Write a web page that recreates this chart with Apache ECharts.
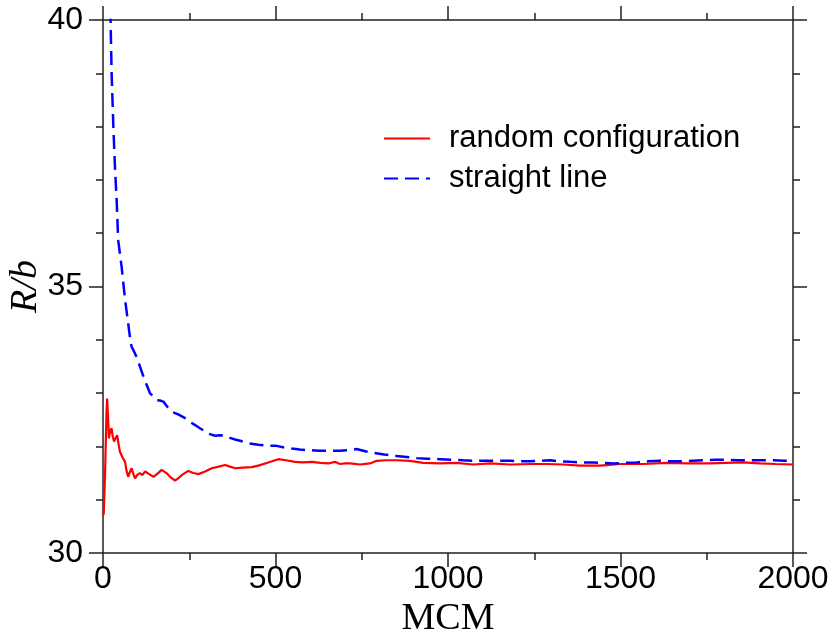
<!DOCTYPE html>
<html><head><meta charset="utf-8">
<script src="https://cdn.jsdelivr.net/npm/echarts@6/dist/echarts.min.js"></script>
<style>html,body{margin:0;padding:0;background:#fff}#c{width:834px;height:634px}</style>
</head><body><div id="c"></div>
<script>
// ---- data ----
const seriesNames = ["random configuration", "straight line"];
const randomMCM = [2,6,10,12,15,17,21,25,28,32,36,41,45,49,56,64,68,73,78,83,88,93,100,107,114,122,134,146,158,170,184,196,209,218,228,247,262,276,296,315,335,354,368,383,405,431,450,470,490,508,530,557,580,605,630,653,672,687,701,716,745,774,793,820,851,890,928,977,1025,1073,1122,1180,1238,1286,1333,1383,1441,1499,1566,1634,1691,1759,1855,1904,1950,2000];
const randomR = [30.72,31.5,32.6,32.9,32.5,32.15,32.3,32.34,32.2,32.09,32.15,32.21,32.05,31.90,31.8,31.71,31.55,31.43,31.52,31.59,31.48,31.40,31.47,31.50,31.46,31.53,31.48,31.43,31.49,31.56,31.50,31.42,31.36,31.40,31.46,31.54,31.50,31.48,31.53,31.59,31.62,31.65,31.62,31.59,31.60,31.61,31.64,31.68,31.72,31.76,31.74,31.71,31.70,31.71,31.69,31.68,31.71,31.67,31.68,31.68,31.66,31.68,31.73,31.74,31.74,31.73,31.69,31.68,31.69,31.66,31.68,31.66,31.67,31.67,31.66,31.64,31.64,31.67,31.67,31.69,31.68,31.68,31.70,31.68,31.67,31.66];
const straightMCM = [18,22,25,30,35,40,44,54,64,73,80,83,90,97,107,115,122,130,136,141,148,155,165,175,187,199,218,238,252,267,281,296,310,325,340,354,368,383,400,421,450,479,503,525,547,570,595,625,653,687,710,735,760,783,815,851,880,909,940,977,1010,1044,1080,1112,1145,1180,1210,1238,1270,1296,1325,1354,1390,1421,1450,1479,1510,1547,1580,1614,1650,1682,1710,1740,1775,1807,1840,1875,1910,1943,1975,2000];
const straightR = [40.6,39.97,39.0,38.0,37.19,36.56,35.87,35.37,34.75,34.31,33.95,33.87,33.78,33.68,33.50,33.35,33.23,33.1,33.0,32.98,32.92,32.87,32.86,32.84,32.74,32.65,32.60,32.53,32.46,32.40,32.34,32.28,32.23,32.20,32.21,32.20,32.16,32.13,32.10,32.06,32.03,32.01,32.01,31.98,31.96,31.94,31.93,31.92,31.92,31.92,31.93,31.95,31.91,31.88,31.85,31.82,31.80,31.78,31.77,31.76,31.75,31.74,31.73,31.73,31.73,31.73,31.72,31.72,31.73,31.74,31.72,31.71,31.70,31.70,31.69,31.68,31.69,31.70,31.72,31.73,31.72,31.72,31.73,31.74,31.75,31.75,31.74,31.74,31.74,31.74,31.73,31.73];
const xMin = 0, xMax = 2000, xStep = 500;
const yMin = 30, yMax = 40, yStep = 5;
const xTitle = "MCM";
const yTitle = "R/b";

// ---- chart ----
const zip = (a, b) => a.map((v, i) => [v, b[i]]);
const axisCol = '#222';
const tickLabel = {fontSize: 32, fontFamily: 'Liberation Sans', color: '#000', formatter: v => String(v)};
function xAx(pos, show) {
  return {
    type: 'value', position: pos, min: xMin, max: xMax, interval: xStep,
    axisLine: {show: true, onZero: false, lineStyle: {color: axisCol, width: 1.5}},
    axisTick: {show: true, inside: false, length: 14, lineStyle: {color: axisCol, width: 1.5}},
    minorTick: {show: true, splitNumber: 2, length: 7, lineStyle: {color: axisCol, width: 1.5}},
    splitLine: {show: false}, minorSplitLine: {show: false},
    axisLabel: Object.assign({show: show, margin: 10}, tickLabel),
    name: show ? xTitle : '', nameLocation: 'middle', nameGap: 39,
    nameTextStyle: {fontFamily: 'Liberation Serif', fontSize: 38, color: '#000'}
  };
}
function yAx(pos, show) {
  return {
    type: 'value', position: pos, min: yMin, max: yMax, interval: yStep,
    axisLine: {show: true, onZero: false, lineStyle: {color: axisCol, width: 1.5}},
    axisTick: {show: true, inside: false, length: 14, lineStyle: {color: axisCol, width: 1.5}},
    minorTick: {show: true, splitNumber: 5, length: 7, lineStyle: {color: axisCol, width: 1.5}},
    splitLine: {show: false}, minorSplitLine: {show: false},
    axisLabel: Object.assign({show: show, margin: 20}, tickLabel),
    name: show ? yTitle : '', nameLocation: 'middle', nameGap: 58, nameRotate: 90, nameMoveOverlap: false,
    nameTextStyle: {fontFamily: 'Liberation Serif', fontStyle: 'italic', fontSize: 38, color: '#000'}
  };
}
const chart = echarts.init(document.getElementById('c'), null, {renderer: 'canvas'});
chart.setOption({
  animation: false,
  backgroundColor: '#fff',
  grid: {left: 103, right: 41, top: 20, bottom: 81, containLabel: false, outerBoundsMode: 'none'},
  xAxis: [xAx('bottom', true), xAx('top', false)],
  yAxis: [yAx('left', true), yAx('right', false)],
  legend: {
    orient: 'vertical', left: 383, top: 123, padding: 0,
    itemWidth: 46, itemHeight: 12, itemGap: 9,
    itemStyle: {opacity: 0},
    textStyle: {fontSize: 31, fontFamily: 'Liberation Sans', color: '#000', padding: [0, 0, 0, 14]},
    data: seriesNames
  },
  series: [
    {name: seriesNames[0], type: 'line', xAxisIndex: 0, yAxisIndex: 0, symbol: 'none', showSymbol: false, clip: true,
     data: zip(randomMCM, randomR), lineStyle: {color: '#ff0000', width: 2.2}, itemStyle: {color: '#ff0000'}},
    {name: seriesNames[1], type: 'line', xAxisIndex: 0, yAxisIndex: 0, symbol: 'none', showSymbol: false, clip: true,
     data: zip(straightMCM, straightR), lineStyle: {color: '#0000ff', width: 2.5, type: [14, 7]}, itemStyle: {color: '#0000ff'}}
  ]
});
</script></body></html>
